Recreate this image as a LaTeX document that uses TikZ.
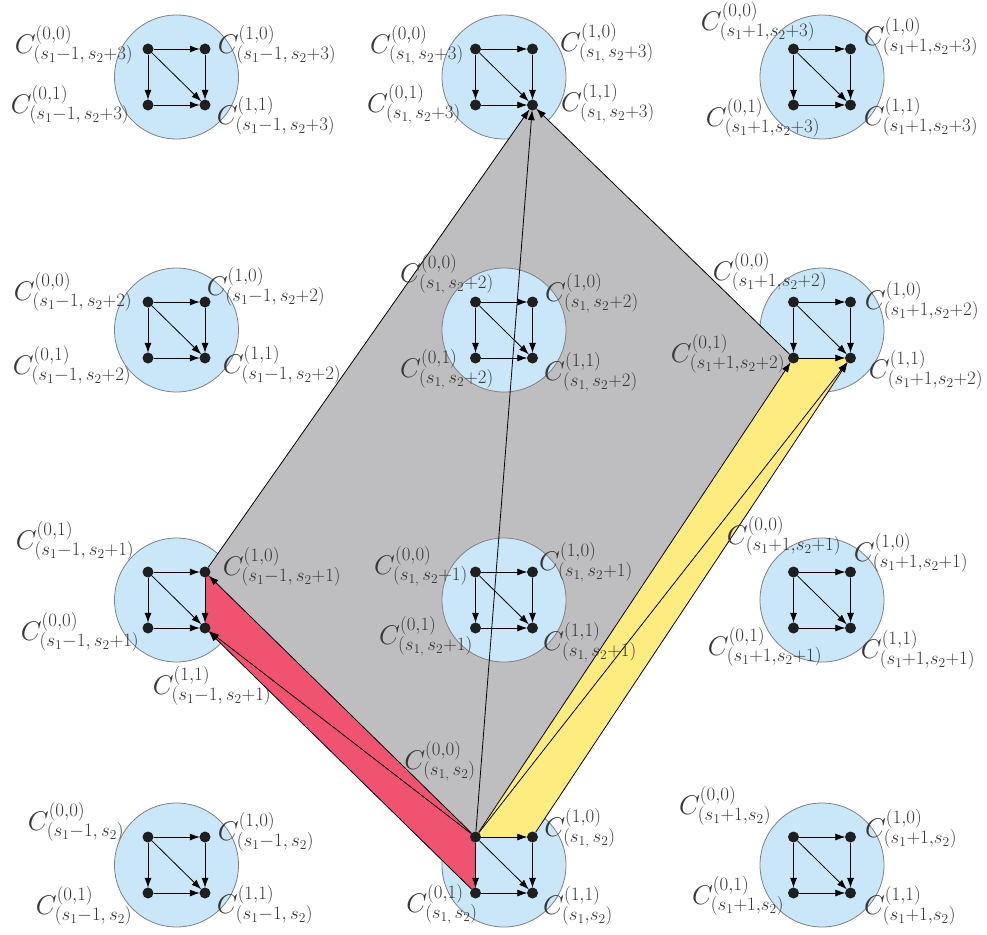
\RequirePackage{fix-cm}
\documentclass[tikz,border=0pt]{standalone}
\usetikzlibrary{arrows.meta}
\definecolor{cfill}{RGB}{201,231,248}
\definecolor{cline}{RGB}{128,128,128}
\definecolor{gfill}{RGB}{190,190,192}
\definecolor{rfill}{RGB}{239,83,112}
\definecolor{yfill}{RGB}{255,236,128}
\definecolor{txt}{RGB}{55,55,55}
\tikzset{
  disc/.style={circle,fill=cfill,draw=cline,line width=0.8pt,minimum size=124pt,inner sep=0pt},
  vtx/.style={circle,fill=black!88,inner sep=0pt,minimum size=11pt},
  arr/.style={-{Latex[length=10pt,width=7pt]},line width=0.8pt,black,shorten >=-0.5pt},
  lbl/.style={inner sep=0pt,text=txt,font=\fontsize{27}{30}\selectfont},
}
\newcommand{\cellcoords}[3]{%
  \coordinate (#1c) at (#2,#3);
  \coordinate (#1-00) at ({#2-28.5},{#3-28});
  \coordinate (#1-10) at ({#2+28.5},{#3-28});
  \coordinate (#1-01) at ({#2-28.5},{#3+28});
  \coordinate (#1-11) at ({#2+28.5},{#3+28});
}
\newcommand{\celldisc}[1]{\node[disc] (#1D) at (#1c) {};}
\newcommand{\cellgraph}[1]{%
  \node[vtx] (#1a) at (#1-00) {};
  \node[vtx] (#1b) at (#1-10) {};
  \node[vtx] (#1c0) at (#1-01) {};
  \node[vtx] (#1d) at (#1-11) {};
  \draw[arr] (#1a) -- (#1b);
  \draw[arr] (#1a) -- (#1c0);
  \draw[arr] (#1a) -- (#1d);
  \draw[arr] (#1b) -- (#1d);
  \draw[arr] (#1c0) -- (#1d);
}
\newcommand{\lb}[5]{\node[lbl] (#1) at (#2,#3) {$C^{(#4)}_{(#5)}$};}
\begin{document}
\begin{tikzpicture}[x=1pt,y=-1pt]
\useasboundingbox (0,0) rectangle (987,934);
% coordinates
\cellcoords{L1}{176.5}{77}
\cellcoords{M1}{504}{77}
\cellcoords{R1}{822}{77}
\cellcoords{L2}{176.5}{330}
\cellcoords{M2}{504}{330}
\cellcoords{R2}{822}{330}
\cellcoords{L3}{176.5}{600}
\cellcoords{M3}{504}{600}
\cellcoords{R3}{822}{600}
\cellcoords{L4}{176.5}{865}
\cellcoords{M4}{504}{865}
\cellcoords{R4}{822}{865}
% discs below the faces
\celldisc{L1}\celldisc{M1}\celldisc{R1}
\celldisc{L2}\celldisc{R2}
\celldisc{L3}\celldisc{R3}
\celldisc{L4}\celldisc{M4}\celldisc{R4}
% faces
\fill[gfill] (M4-00) -- (L3-10) -- (M1-11) -- (R2-01) -- cycle;
\fill[rfill] (M4-00) -- (L3-10) -- (L3-11) -- (M4-01) -- cycle;
\fill[yfill] (M4-00) -- (M4-10) -- (R2-11) -- (R2-01) -- cycle;
% discs above the faces
\celldisc{M2}\celldisc{M3}
% graphs
\cellgraph{L1}\cellgraph{M1}\cellgraph{R1}
\cellgraph{L2}\cellgraph{M2}\cellgraph{R2}
\cellgraph{L3}\cellgraph{M3}\cellgraph{R3}
\cellgraph{L4}\cellgraph{M4}\cellgraph{R4}
% long connectors
\draw[arr] (M4a) -- (L3b);
\draw[arr] (M4a) -- (L3d);
\draw[arr] (M4c0) -- (L3d);
\draw[arr] (M4a) -- (R2c0);
\draw[arr] (M4a) -- (R2d);
\draw[arr] (M4b) -- (R2d);
\draw[arr] (L3b) -- (M1d);
\draw[arr] (M4a) -- (M1d);
\draw[arr] (R2c0) -- (M1d);
% labels row 1
\lb{tL1a}{74}{45}{0,0}{s_1-1,\, s_2+3}
\lb{tL1b}{277}{45}{1,0}{s_1-1,\, s_2+3}
\lb{tL1c}{70}{105}{0,1}{s_1-1,\, s_2+3}
\lb{tL1d}{276}{116}{1,1}{s_1-1,\, s_2+3}
\lb{tM1a}{417}{45}{0,0}{s_{1,}\, s_2+3}
\lb{tM1b}{607}{43}{1,0}{s_{1,}\, s_2+3}
\lb{tM1c}{414}{104}{0,1}{s_{1,}\, s_2+3}
\lb{tM1d}{608}{103}{1,1}{s_{1,}\, s_2+3}
\lb{tR1a}{758}{22}{0,0}{s_1+1,s_2+3}
\lb{tR1b}{921}{37}{1,0}{s_1+1,s_2+3}
\lb{tR1c}{763}{118}{0,1}{s_1+1,s_2+3}
\lb{tR1d}{921}{117}{1,1}{s_1+1,s_2+3}
% row 2
\lb{tL2a}{73}{292}{0,0}{s_1-1,\, s_2+2}
\lb{tL2b}{266}{287}{1,0}{s_1-1,\, s_2+2}
\lb{tL2c}{72}{366}{0,1}{s_1-1,\, s_2+2}
\lb{tL2d}{282}{365}{1,1}{s_1-1,\, s_2+2}
\lb{tM2a}{447}{274}{0,0}{s_{1,}\, s_2+2}
\lb{tM2b}{592}{293}{1,0}{s_{1,}\, s_2+2}
\lb{tM2c}{447}{369}{0,1}{s_{1,}\, s_2+2}
\lb{tM2d}{591}{372}{1,1}{s_{1,}\, s_2+2}
\lb{tR2a}{770}{272}{0,0}{s_1+1,s_2+2}
\lb{tR2b}{922}{301}{1,0}{s_1+1,s_2+2}
\lb{tR2c}{728}{354}{0,1}{s_1+1,s_2+2}
\lb{tR2d}{926}{370}{1,1}{s_1+1,s_2+2}
% row 3
\lb{tL3a}{75}{541}{0,1}{s_1-1,\, s_2+1}
\lb{tL3b}{282}{567}{1,0}{s_1-1,\, s_2+1}
\lb{tL3c}{80}{632}{0,0}{s_1-1,\, s_2+1}
\lb{tL3d}{212}{686}{1,1}{s_1-1,\, s_2+1}
\lb{tM3a}{421}{566}{0,0}{s_{1,}\, s_2+1}
\lb{tM3b}{586}{562}{1,0}{s_{1,}\, s_2+1}
\lb{tM3c}{426}{636}{0,1}{s_{1,}\, s_2+1}
\lb{tM3d}{590}{642}{1,1}{s_{1,}\, s_2+1}
\lb{tR3a}{784}{536}{0,0}{s_1+1,s_2+1}
\lb{tR3b}{911}{553}{1,0}{s_1+1,s_2+1}
\lb{tR3c}{765}{647}{0,1}{s_1+1,s_2+1}
\lb{tR3d}{918}{650}{1,1}{s_1+1,s_2+1}
% row 4
\lb{tL4a}{76}{822}{0,0}{s_1-1,\, s_2}
\lb{tL4b}{266}{832}{1,0}{s_1-1,\, s_2}
\lb{tL4c}{84}{906}{0,1}{s_1-1,\, s_2}
\lb{tL4d}{265}{905}{1,1}{s_1-1,\, s_2}
\lb{tM4a}{440}{761}{0,0}{s_{1,}\, s_2}
\lb{tM4b}{580}{828}{1,0}{s_{1,}\, s_2}
\lb{tM4c}{442}{904}{0,1}{s_{1,}\, s_2}
\lb{tM4d}{578}{906}{1,1}{s_1,s_2}
\lb{tR4a}{725}{806}{0,0}{s_1+1,s_2}
\lb{tR4b}{911}{829}{1,0}{s_1+1,s_2}
\lb{tR4c}{738}{896}{0,1}{s_1+1,s_2}
\lb{tR4d}{910}{906}{1,1}{s_1+1,s_2}
\end{tikzpicture}
\end{document}
